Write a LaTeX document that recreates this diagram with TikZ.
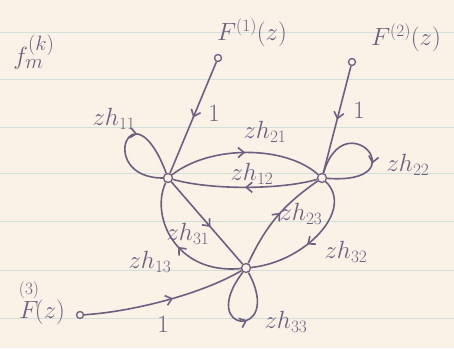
\documentclass[tikz,border=0pt]{standalone}
\usepackage{amsmath}
\usetikzlibrary{arrows.meta,decorations.markings}
\definecolor{ink}{HTML}{6E5F80}
\definecolor{paper}{HTML}{FAF2E6}
\definecolor{ruling}{HTML}{D3E0DA}
\tikzset{junction/.style={circle,draw=ink,fill=paper,line width=1.3pt,inner sep=0pt,minimum size=9pt},source/.style={circle,draw=ink,fill=paper,line width=1.3pt,inner sep=0pt,minimum size=7pt},branch/.style={draw=ink,line width=1.6pt},midtip/.style={decoration={markings,mark=at position #1 with {\arrow{Straight Barb[length=6pt,width=10pt,line width=1.6pt]}}},postaction={decorate}},gain/.style={text=ink,font=\fontsize{23}{26}\selectfont,inner sep=1pt}}

\begin{document}
\begin{tikzpicture}[x=1pt,y=-1pt]
\fill[paper] (0,0) rectangle (454,348);
\useasboundingbox (0,0) rectangle (454,348);
\foreach \y in {32,79,127,173,221,270,318} \draw[ruling,line width=0.8pt] (0,\y)--(454,\y);
\node[gain,font=\fontsize{28}{30}\selectfont] (title) at (34,52) {$f_m^{(k)}$};
\node[junction] (n1) at (168,178) {};
\node[junction] (n2) at (322,178) {};
\node[junction] (n3) at (246,268) {};
\node[source] (s1) at (218,58) {};
\node[source] (s2) at (352,62) {};
\node[source] (s3) at (80,315) {};
\node[gain] (l1) at (252,33) {$F^{(1)}(z)$};
\node[gain] (l2) at (406,38) {$F^{(2)}(z)$};
\node[gain] (l3) at (42,302) {$\overset{(3)}{F}\!(z)$};
\draw[branch,midtip=0.5] (s1)--(n1);
\node[gain] at (214,113) {$1$};
\draw[branch,midtip=0.5] (s2)--(n2);
\node[gain] at (359,110) {$1$};
\draw[branch,midtip=0.55] (s3) .. controls (130,312) and (200,295) .. (n3);
\node[gain] at (163,324) {$1$};
\draw[branch,midtip=0.6] (n1) .. controls (95,178) and (132,82) .. (n1);
\node[gain] at (114,119) {$zh_{11}$};
\draw[branch,midtip=0.5] (n1) .. controls (210,145) and (285,145) .. (n2);
\node[gain] at (265,132) {$zh_{21}$};
\draw[branch,midtip=0.5] (n2) .. controls (280,190) and (210,190) .. (n1);
\node[gain] at (252,174) {$zh_{12}$};
\draw[branch,midtip=0.6] (n2) .. controls (345,100) and (420,185) .. (n2);
\node[gain] at (408,165) {$zh_{22}$};
\draw[branch,midtip=0.55] (n1)--(n3);
\node[gain] at (188,234) {$zh_{31}$};
\draw[branch,midtip=0.5] (n3) .. controls (175,275) and (150,215) .. (n1);
\node[gain] at (150,262) {$zh_{13}$};
\draw[branch,midtip=0.55] (n3) to[bend left=15] (n2);
\node[gain] at (301,214) {$zh_{23}$};
\draw[branch,midtip=0.55] (n2) .. controls (355,210) and (305,262) .. (n3);
\node[gain] at (346,252) {$zh_{32}$};
\draw[branch,midtip=0.55] (n3) .. controls (195,335) and (285,340) .. (n3);
\node[gain] at (286,322) {$zh_{33}$};
\end{tikzpicture}
\end{document}
